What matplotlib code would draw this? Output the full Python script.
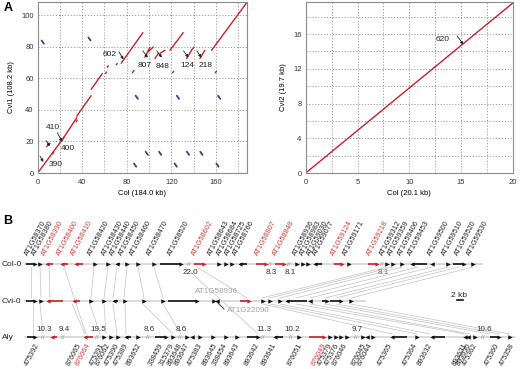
import matplotlib
matplotlib.use("Agg")
import matplotlib.pyplot as plt
import numpy as np

plt.rcParams['font.family'] = ['Liberation Sans', 'DejaVu Sans']

RED = '#c8202a'
TXTRED = '#d23a3a'
BLUE = '#3a3f8f'
GRAY = '#c2c2c2'

# ---------------- Panel A data (kb) ----------------
cvi1_red_segments = [
    (0, 0, 24, 23), (22, 21, 35, 35), (35, 36, 48, 49), (34.5, 32.5, 35.5, 33.5),
    (8, 16.7, 11, 18.8), (13.5, 12.2, 14.3, 13.0),
    (48, 53, 58, 63), (60.8, 63, 61.8, 64), (62.5, 67, 63.5, 68), (70.5, 68.6, 71.5, 69.4),
    (75, 69.6, 94.5, 89), (85, 63.5, 86.5, 65),
    (96.3, 73.4, 100.8, 79.7), (99.3, 76.8, 103.8, 79.9),
    (105.3, 72.6, 108.3, 75.8), (109.8, 75.8, 114.3, 77.8),
    (118.8, 77.8, 130.7, 89), (121.2, 63.5, 122.2, 64.5),
    (133.7, 72.6, 138.2, 77.8), (138.2, 78, 140.4, 79.8),
    (145.7, 72.6, 150.2, 77.8), (159.5, 63.5, 160.5, 64.5),
    (156.2, 77.8, 188, 108.2),
]
cvi1_blue_centers = [
    (4.5, 83), (46.5, 85), (89, 48), (126, 48), (163, 48),
    (87.5, 5), (98, 12.5), (110, 12.5), (124, 5), (135, 12.5), (147, 12.5), (161.5, 5),
]
cvi1_labels = [("390", 9.6, 5.7), ("400", 21, 15.6), ("410", 14, 28.7), ("602", 65, 75),
               ("807", 95.6, 68.4), ("848", 112.3, 67.3), ("124", 134, 68.4), ("218", 151, 68)]
cvi1_arrows = [(2.1, 10.7, 5.1, 7.0), (17.7, 25.5, 21.9, 19.8), (7.5, 20.5, 11, 17),
               (73, 76.8, 77, 72), (94.4, 77.4, 98.9, 73.2), (107, 77.4, 111.5, 73.2),
               (131, 77.4, 135.4, 73.2), (143, 77.4, 147, 73.2)]
cvi1_xticks = [0, 40, 80, 120, 160]
cvi1_yticks = [0, 20, 40, 60, 80, 100]
cvi1_xgrid = [20, 40, 60, 80, 100, 120, 140, 160, 180]
cvi1_ygrid = [20, 40, 60, 80, 100]

cvi2_line = (0, 0, 20.1, 19.7)
cvi2_labels = [("620", 13.2, 15.4)]
cvi2_arrows = [(14.6, 15.8, 15.2, 14.8)]
cvi2_xticks = [0, 5, 10, 15, 20]
cvi2_yticks = [0, 4, 8, 12, 16]
cvi2_xgrid = [2.5, 5, 7.5, 10, 12.5, 15, 17.5]
cvi2_ygrid = [2, 4, 6, 8, 10, 12, 14, 16, 18]

# ---------------- Panel B data (map positions) ----------------
col_genes = [
    (26, 36, 1, 'k'), (39, 41, 1, 'k'), (45, 53, -1, 'r'), (60, 68, -1, 'r'), (74, 83, -1, 'r'),
    (94, 96, 1, 'k'), (107, 109, 1, 'k'), (115, 120, -1, 'k'), (126, 128, 1, 'k'), (137, 139, 1, 'k'),
    (153, 155, 1, 'k'), (160, 182, 1, 'k'), (194, 205, 1, 'r'), (218, 220, 1, 'k'), (225, 227, 1, 'k'),
    (231, 233, 1, 'k'), (238, 247, -1, 'k'), (256, 267, 1, 'r'), (275, 285, 1, 'r'), (296, 298, 1, 'k'),
    (302, 304, 1, 'k'), (307, 309, 1, 'k'), (313, 322, -1, 'k'), (334, 343, 1, 'r'), (348, 350, 1, 'k'),
    (368, 378, 1, 'r'), (386, 388, 1, 'k'), (392, 394, 1, 'k'), (401, 403, 1, 'k'), (410, 427, -1, 'k'),
    (431, 433, -1, 'k'), (447, 449, 1, 'k'), (453, 465, 1, 'k'), (472, 474, 1, 'k'),
]
col_breaks = [(189, "22.0"), (270, "8.3"), (289, "8.1"), (382, "8.1")]
col_names = ["AT1G58370", "AT1G58380", "AT1G58390", "AT1G58400", "AT1G58410", "AT1G58420",
             "AT1G58430", "AT1G58440", "AT1G58450", "AT1G58460", "AT1G58470", "AT1G58520",
             "AT1G58602", "AT1G58643", "AT1G58684", "AT1G58725", "AT1G58766", "AT1G58807",
             "AT1G58848", "AT1G58936", "AT1G58983", "AT1G59030", "AT1G59077", "AT1G59124",
             "AT1G59171", "AT1G59218", "AT1G59312", "AT1G59359", "AT1G59406", "AT1G59453",
             "AT1G59500", "AT1G59510", "AT1G59520", "AT1G59530"]
col_name_x = [30, 37, 47, 62, 76, 93, 107, 115, 124, 135, 152, 173, 197, 213, 222, 230, 238,
              260, 278, 298, 305, 312, 318, 336, 348, 372, 385, 393, 403, 413, 433, 447, 460, 472]
col_red_names = {"AT1G58390", "AT1G58400", "AT1G58410", "AT1G58602", "AT1G58807",
                 "AT1G58848", "AT1G59124", "AT1G59218"}

cvi_genes = [
    (26, 36, 1, 'k'), (40, 42, 1, 'k'), (46, 63, -1, 'r'), (72, 80, -1, 'r'), (90, 92, 1, 'k'),
    (103, 105, 1, 'k'), (112, 118, -1, 'k'), (124, 126, 1, 'k'), (143, 145, 1, 'k'), (162, 164, 1, 'k'),
    (168, 198, 1, 'k'), (213, 215, 1, 'k'), (216, 218, -1, 'k'), (240, 250, 1, 'r'), (262, 264, 1, 'k'),
    (269, 271, 1, 'k'), (279, 281, 1, 'k'), (285, 307, -1, 'k'), (309, 311, -1, 'k'), (322, 328, 1, 'k'),
    (330, 342, 1, 'k'), (350, 352, 1, 'k'),
]

aly_genes = [
    (27, 36, 1, 'k'), (50, 57, -1, 'r'), (83, 93, -1, 'r'), (103, 105, 1, 'k'), (110, 112, 1, 'k'),
    (117, 119, 1, 'k'), (124, 131, -1, 'k'), (137, 139, 1, 'k'), (155, 167, 1, 'k'), (172, 174, 1, 'k'),
    (186, 188, 1, 'k'), (191, 193, -1, 'k'), (199, 201, 1, 'k'), (212, 214, 1, 'k'), (225, 227, 1, 'k'),
    (236, 238, 1, 'k'), (247, 259, 1, 'k'), (273, 283, -1, 'k'), (298, 300, 1, 'k'), (309, 325, 1, 'r'),
    (329, 331, 1, 'k'), (335, 337, 1, 'k'), (340, 342, 1, 'k'), (346, 348, 1, 'k'), (362, 364, 1, 'k'),
    (366, 368, -1, 'k'), (372, 374, 1, 'k'), (390, 407, -1, 'k'), (416, 418, 1, 'k'), (430, 445, -1, 'k'),
    (464, 466, -1, 'k'), (467, 469, -1, 'k'), (474, 476, 1, 'k'), (490, 500, 1, 'k'), (509, 511, 1, 'k'),
]
aly_breaks = [(43, "10.3"), (63, "9.4"), (97, "19.5"), (148, "8.6"), (180, "8.6"),
              (263, "11.3"), (291, "10.2"), (356, "9.7"), (483, "10.6")]
aly_names = ["475392", "876065", "876064", "475391", "876062", "475390", "475389", "893652",
             "338459", "315379", "893648", "893647", "475383", "893645", "338454", "893643",
             "893642", "893641", "876051", "876049", "475379", "475376", "876046", "876045",
             "876044", "475365", "475364", "893632", "893631", "893630", "475362", "475360", "475358"]
aly_name_x = [35, 77, 86, 100, 106, 115, 124, 137, 159, 170, 178, 185, 198, 213, 223, 235, 255,
              272, 298, 322, 328, 335, 343, 362, 368, 388, 413, 428, 463, 467, 473, 495, 510]
aly_red_names = {"876064", "876049"}

col_to_cvi = [(31, 31), (40, 41), (49, 50), (94, 91), (108, 104), (117, 113), (127, 124),
              (138, 144), (154, 163), (197, 247), (387, 262), (393, 270), (402, 280), (418, 296),
              (432, 310), (448, 325), (459, 336), (473, 351)]
cvi_to_aly = [(33, 33), (40, 43), (72, 85), (90, 100), (104, 106), (113, 117), (125, 126),
              (143, 173), (163, 181), (263, 392), (270, 417), (280, 430), (296, 465), (310, 470),
              (325, 490), (336, 500), (351, 510)]
col_to_aly = [(64, 86), (185, 258)]

COL_Y, CVI_Y, ALY_Y = 264, 301, 337

# ---------------- Figure ----------------
fig = plt.figure(figsize=(5.2, 3.69), dpi=100)

def style_axes(ax, xg, yg):
    for s in ax.spines.values():
        s.set_color('#8c8c8c')
        s.set_linewidth(0.8)
    ax.tick_params(which='both', length=0, labelsize=5.5, colors='#333333', pad=3)
    for v in xg:
        ax.axvline(v, color='#9a9a9a', lw=0.7, ls=(0, (1.2, 1.8)), zorder=0)
    for v in yg:
        ax.axhline(v, color='#9a9a9a', lw=0.7, ls=(0, (1.2, 1.8)), zorder=0)

axL = fig.add_axes([37.7 / 520, 1 - 173 / 369, 209.3 / 520, 171 / 369])
style_axes(axL, cvi1_xgrid, cvi1_ygrid)
axL.set_xlim(0, 188)
axL.set_ylim(0, 108.4)
axL.set_xticks(cvi1_xticks)
axL.set_yticks(cvi1_yticks)
axL.tick_params(axis='x', pad=4)
axL.set_xlabel("Col (184.0 kb)", fontsize=5.5, labelpad=3)
axL.set_ylabel("Cvi1 (108.2 kb)", fontsize=5.5, labelpad=4)
for x0, y0, x1, y1 in cvi1_red_segments:
    axL.plot([x0, x1], [y0, y1], color=RED, lw=1.0, solid_capstyle='round')
for cx, cy in cvi1_blue_centers:
    axL.plot([cx - 1.0, cx + 1.0], [cy + 1.0, cy - 1.0], color=BLUE, lw=1.3, solid_capstyle='round')
for t, x, y in cvi1_labels:
    axL.text(x, y, t, fontsize=6, ha='center' if t not in ("390", "400") else 'left',
             va='center', color='#222222')
for x0, y0, x1, y1 in cvi1_arrows:
    axL.annotate("", xy=(x1, y1), xytext=(x0, y0),
                 arrowprops=dict(arrowstyle='-|>', lw=0.6, color='#222222', mutation_scale=4,
                                 shrinkA=0, shrinkB=0))

axR = fig.add_axes([305.7 / 520, 1 - 173 / 369, 207.3 / 520, 171 / 369])
style_axes(axR, cvi2_xgrid, cvi2_ygrid)
axR.set_xlim(0, 20)
axR.set_ylim(0, 19.7)
axR.set_xticks(cvi2_xticks)
axR.set_yticks(cvi2_yticks)
axR.tick_params(axis='x', pad=4)
axR.set_xlabel("Col (20.1 kb)", fontsize=5.5, labelpad=3)
axR.set_ylabel("Cvi2 (19.7 kb)", fontsize=5.5, labelpad=4)
x0, y0, x1, y1 = cvi2_line
axR.plot([x0, x1], [y0, y1], color=RED, lw=1.0)
for t, x, y in cvi2_labels:
    axR.text(x, y, t, fontsize=6, ha='center', va='center', color='#222222')
for a0, b0, a1, b1 in cvi2_arrows:
    axR.annotate("", xy=(a1, b1), xytext=(a0, b0),
                 arrowprops=dict(arrowstyle='-|>', lw=0.6, color='#222222', mutation_scale=4,
                                 shrinkA=0, shrinkB=0))

fig.text(4 / 520, 1 - 8 / 369, "A", fontsize=9, fontweight='bold', va='center')

# ---------------- Panel B ----------------
axB = fig.add_axes([0, 0, 1, 169 / 369])
axB.set_xlim(0, 520)
axB.set_ylim(369, 200)
axB.axis('off')

for a, b in col_to_cvi:
    axB.plot([a, b], [COL_Y + 3, CVI_Y - 3], color=GRAY, lw=0.5, zorder=1)
for a, b in cvi_to_aly:
    axB.plot([a, b], [CVI_Y + 3, ALY_Y - 3], color=GRAY, lw=0.5, zorder=1)
for a, b in col_to_aly:
    axB.plot([a, b], [COL_Y + 3, ALY_Y - 3], color=GRAY, lw=0.5, zorder=1)

axB.plot([25, 482], [COL_Y, COL_Y], color='#d4d4d4', lw=1.2, zorder=2)
axB.plot([25, 365], [CVI_Y, CVI_Y], color='#d4d4d4', lw=1.2, zorder=2)
axB.plot([25, 515], [ALY_Y, ALY_Y], color='#d4d4d4', lw=1.2, zorder=2)

def draw_genes(genes, y):
    for s, e, d, c in genes:
        col = RED if c == 'r' else '#111111'
        if e - s > 3:
            if d > 0:
                axB.plot([s, e - 2], [y, y], color=col, lw=1.2, solid_capstyle='butt', zorder=3)
                axB.plot(e - 1.5, y, marker='>', ms=3.0, color=col, mew=0, zorder=4)
            else:
                axB.plot([s + 2, e], [y, y], color=col, lw=1.2, solid_capstyle='butt', zorder=3)
                axB.plot(s + 1.5, y, marker='<', ms=3.0, color=col, mew=0, zorder=4)
        else:
            axB.plot((s + e) / 2, y, marker='>' if d > 0 else '<', ms=3.2, color=col, mew=0, zorder=4)

draw_genes(col_genes, COL_Y)
draw_genes(cvi_genes, CVI_Y)
draw_genes(aly_genes, ALY_Y)

for x, lab in col_breaks:
    axB.text(x, COL_Y, "//", fontsize=4.5, color='#888888', ha='center', va='center', zorder=5)
    axB.text(x + 1, COL_Y + 8.5, lab, fontsize=5.8,
             color='#666666' if x > 300 else '#333333', ha='center', va='center')
for x, lab in aly_breaks:
    axB.text(x, ALY_Y, "//", fontsize=4.5, color='#888888', ha='center', va='center', zorder=5)
    axB.text(x + 1, ALY_Y - 8, lab, fontsize=5.8, color='#333333', ha='center', va='center')

for name, x in zip(col_names, col_name_x):
    axB.text(x, COL_Y - 7, name, fontsize=5.2, rotation=62, rotation_mode='anchor',
             ha='left', va='bottom', color=TXTRED if name in col_red_names else '#222222')
for name, x in zip(aly_names, aly_name_x):
    axB.text(x, ALY_Y + 5, name, fontsize=5.2, rotation=62, rotation_mode='anchor',
             ha='right', va='top', color=TXTRED if name in aly_red_names else '#222222')

axB.text(2, COL_Y, "Col-0", fontsize=6, ha='left', va='center', color='#222222')
axB.text(2, CVI_Y, "Cvi-0", fontsize=6, ha='left', va='center', color='#222222')
axB.text(2, ALY_Y, "Aly", fontsize=6, ha='left', va='center', color='#222222')

axB.text(195, 291, "AT1G58936", fontsize=5.8, color='#a0a0a0', ha='left', va='center')
axB.text(227, 310, "AT1G22090", fontsize=5.8, color='#a0a0a0', ha='left', va='center')
axB.plot([217, 224], [302, 309], color='#222222', lw=0.6)

axB.text(459, 295, "2 kb", fontsize=6, ha='center', va='center', color='#222222')
axB.plot([457, 463], [300, 300], color='#111111', lw=1.2)

axB.text(3, 221, "B", fontsize=9, fontweight='bold', va='center')

fig.savefig("out.png", dpi=100)
